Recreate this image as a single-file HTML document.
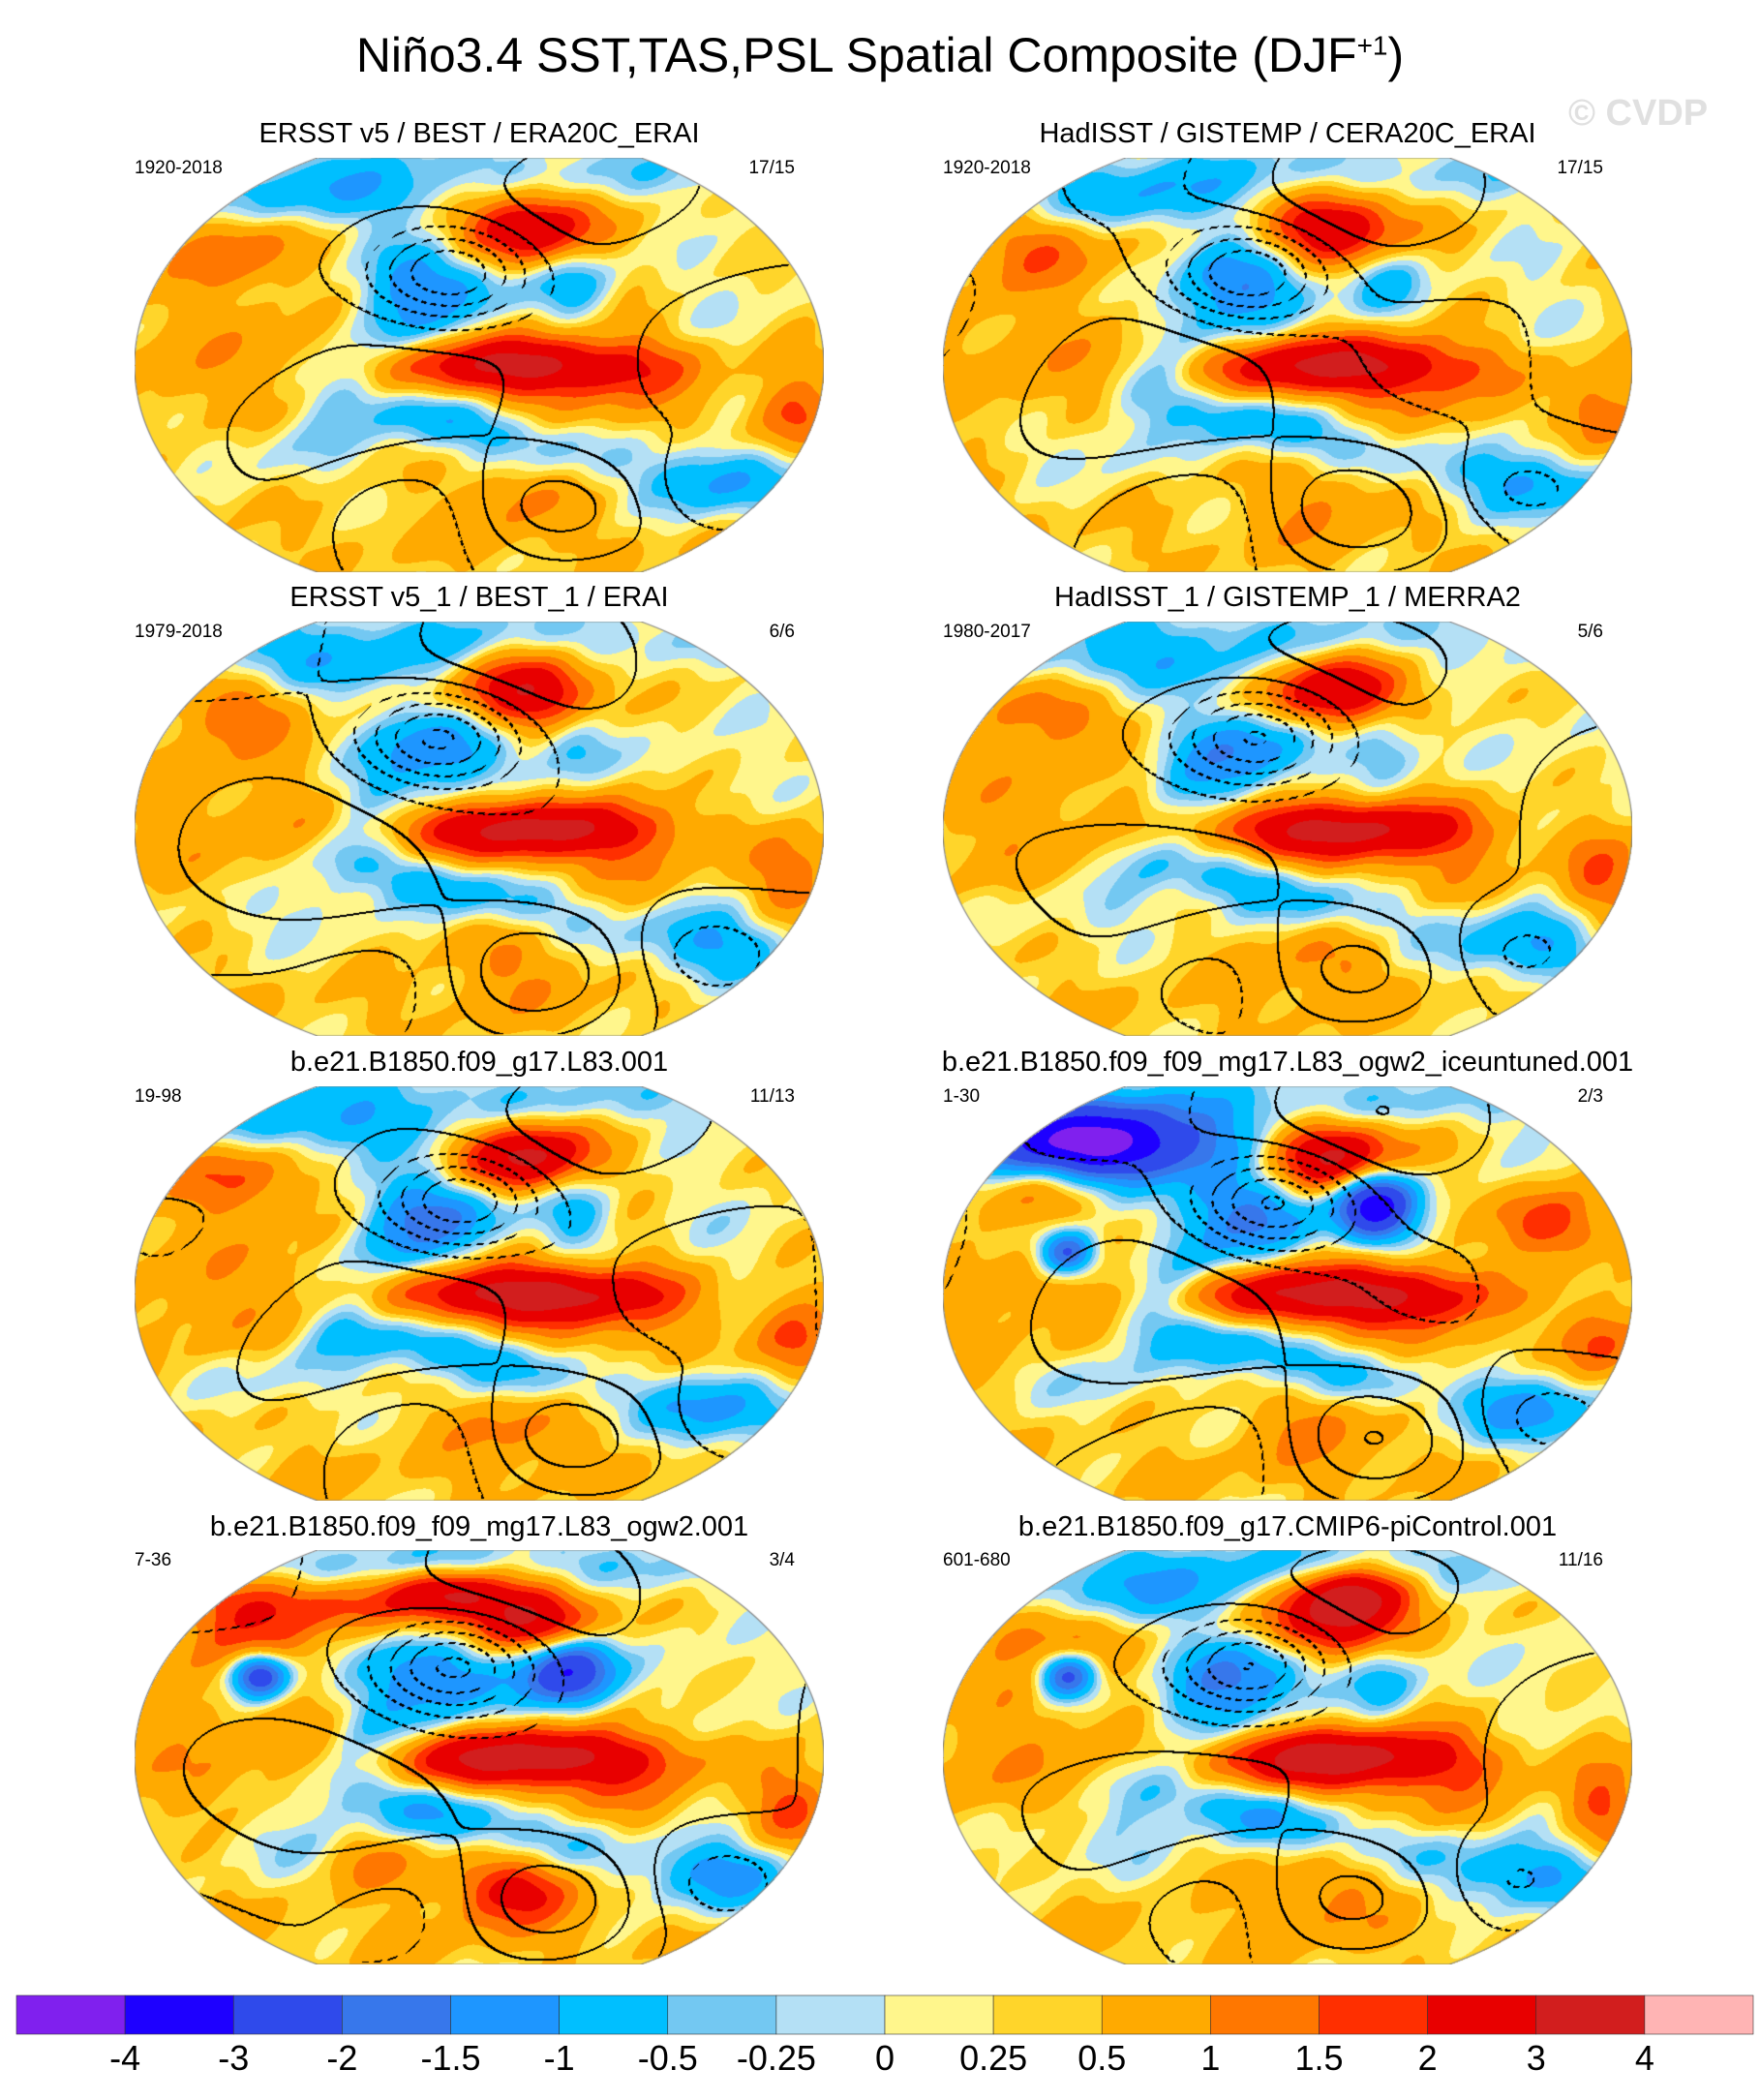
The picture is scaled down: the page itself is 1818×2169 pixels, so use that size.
<!DOCTYPE html>
<html><head><meta charset="utf-8">
<style>
html,body{margin:0;padding:0;background:#fff;}
body{width:1818px;height:2169px;position:relative;overflow:hidden;font-family:"Liberation Sans",sans-serif;color:#000;}
.t{position:absolute;white-space:nowrap;}
canvas{position:absolute;}
</style></head><body>
<div class="t" style="left:0;width:1818px;text-align:center;top:28px;font-size:50px;">Niño3.4 SST,TAS,PSL Spatial Composite (DJF<sup style="font-size:28px;">+1</sup>)</div>
<div class="t" style="left:1620px;top:96px;font-size:38px;font-weight:bold;color:#e0e0e0;">© CVDP</div>
<div id="panels"></div>
<svg id="cbar" width="1818" height="2169" style="position:absolute;left:0;top:0;pointer-events:none"></svg>
<script>
// colorbar data
const levels = ["-4","-3","-2","-1.5","-1","-0.5","-0.25","0","0.25","0.5","1","1.5","2","3","4"];
const levelVals = [-4,-3,-2,-1.5,-1,-0.5,-0.25,0,0.25,0.5,1,1.5,2,3,4];
const colors = ["#8020EE","#1E00FF","#2F4AEB","#3777EB","#1E96FF","#00BFFF","#73C8F2","#B4E0F5","#FFF68C","#FFD52A","#FFAA00","#FF7700","#FF2F00","#E80000","#D21E1E","#FFB4B4"];
// panel data
const titles = ["ERSST v5 / BEST / ERA20C_ERAI","HadISST / GISTEMP / CERA20C_ERAI","ERSST v5_1 / BEST_1 / ERAI","HadISST_1 / GISTEMP_1 / MERRA2","b.e21.B1850.f09_g17.L83.001","b.e21.B1850.f09_f09_mg17.L83_ogw2_iceuntuned.001","b.e21.B1850.f09_f09_mg17.L83_ogw2.001","b.e21.B1850.f09_g17.CMIP6-piControl.001"];
const yearLabels = ["1920-2018","1920-2018","1979-2018","1980-2017","19-98","1-30","7-36","601-680"];
const countLabels = ["17/15","17/15","6/6","5/6","11/13","2/3","3/4","11/16"];
// SST/TAS anomaly blobs (normalized map coords)
const blobU  = [0.57,0.58,0.57,0.45,0.33,0.52,0.28,0.15,0.10,0.85,0.85,0.55,0.18,0.64,0.50,0.50,0.95,0.75,0.40,0.42];
const blobV  = [0.50,0.52,0.17,0.30,0.47,0.66,0.10,0.22,0.50,0.45,0.78,0.82,0.70,0.30,0.03,0.93,0.62,0.58,0.62,0.40];
const blobSU = [0.13,0.22,0.07,0.08,0.04,0.14,0.13,0.06,0.12,0.08,0.08,0.07,0.10,0.04,0.40,0.40,0.04,0.06,0.08,0.05];
const blobSV = [0.045,0.10,0.06,0.07,0.15,0.05,0.05,0.06,0.20,0.20,0.06,0.07,0.06,0.08,0.05,0.05,0.07,0.10,0.05,0.08];
const blobAmp= [2.4,0.7,2.8,-1.4,-0.8,-1.1,-1.0,1.0,0.4,-0.35,-1.3,0.7,-0.5,-1.1,-0.7,0.2,1.2,0.3,-0.6,-0.7];
const blobRot= [0,0,0,0.5,0.3,0.4,0,0,0,0,0.2,0,0,0,0,0,0,0,0.3,0.4];
// per-panel extra blobs [panel index,u,v,su,sv,amp]
const extraPanel=[5,5,5,5,6,6,6,6,6,6,7,7];
const extraU=[0.20,0.62,0.88,0.18,0.25,0.45,0.62,0.18,0.35,0.55,0.18,0.60];
const extraV=[0.15,0.28,0.33,0.40,0.12,0.10,0.28,0.30,0.75,0.82,0.30,0.10];
const extraSU=[0.12,0.04,0.05,0.03,0.12,0.06,0.05,0.03,0.05,0.06,0.03,0.06];
const extraSV=[0.06,0.06,0.06,0.04,0.05,0.04,0.06,0.04,0.05,0.05,0.04,0.04];
const extraAmp=[-4.5,-3,2,-3,2.5,2.5,-2.5,-3.5,0.8,1.2,-3,2.0];
// PSL contour field
const pslU=[0.46,0.30,0.60,0.85,0.40,0.62];
const pslV=[0.28,0.60,0.85,0.80,0.85,0.08];
const pslS=[0.08,0.18,0.10,0.07,0.10,0.15];
const pslAmp=[-7,2.5,4,-2,-2,2.5];

const panelX=[139,974];const rowY=[163,642,1122,1601];
const titleY=[139,618,1098,1578];
const MW=712,MH=428;

function hex(c){return [parseInt(c.slice(1,3),16),parseInt(c.slice(3,5),16),parseInt(c.slice(5,7),16)];}
const rgb=colors.map(hex);
function idxFor(v){let i=0;while(i<levelVals.length&&v>=levelVals[i])i++;return i;}
function halfW(v){const t=Math.abs(v-0.5)*2;return Math.sqrt(Math.max(0,1-0.78*t*t));}

const panels=document.getElementById('panels');
for(let p=0;p<8;p++){
  const col=p%2,row=Math.floor(p/2);
  const x0=panelX[col],y0=rowY[row];
  const tt=document.createElement('div');tt.className='t';
  
  
  tt.style.cssText=`left:${x0-100}px;width:${MW+200}px;text-align:center;top:${titleY[row]-17}px;font-size:29px;`;
  tt.textContent=titles[p];panels.appendChild(tt);
  const yl=document.createElement('div');yl.className='t';
  
  
  yl.style.cssText=`left:${x0}px;top:${y0}px;font-size:19px;`;yl.textContent=yearLabels[p];panels.appendChild(yl);
  const cl=document.createElement('div');cl.className='t';
  
  
  cl.style.cssText=`left:${x0+MW-165}px;width:135px;text-align:right;top:${y0}px;font-size:19px;`;cl.textContent=countLabels[p];panels.appendChild(cl);
  const cv=document.createElement('canvas');cv.width=MW;cv.height=MH;
  
  
  cv.style.left=x0+'px';cv.style.top=y0+'px';panels.appendChild(cv);
  const ctx=cv.getContext('2d');const img=ctx.createImageData(MW,MH);const d=img.data;
  const ph=p*1.7;const ampScale=(p>=4)?1.1:1.0;
  const psl=new Float32Array(MW*MH);const inside=new Uint8Array(MW*MH);
  const bs=blobU.map((_,i)=>[Math.cos(blobRot[i]),Math.sin(blobRot[i])]);
  for(let y=0;y<MH;y++){const v=y/MH;const hw=halfW(v);
    for(let x=0;x<MW;x++){const u=x/MW;const k=y*MW+x;
      if(Math.abs(u-0.5)*2>hw)continue;inside[k]=1;
      let f=0.33;
      for(let i=0;i<blobU.length;i++){const dx=u-blobU[i],dy=v-blobV[i];const c=bs[i][0],s=bs[i][1];
        const a=(dx*c+dy*s)/blobSU[i],b=(-dx*s+dy*c)/blobSV[i];f+=ampScale*blobAmp[i]*Math.exp(-0.5*(a*a+b*b));}
      for(let i=0;i<extraPanel.length;i++){if(extraPanel[i]!==p)continue;const a=(u-extraU[i])/extraSU[i],b=(v-extraV[i])/extraSV[i];f+=extraAmp[i]*Math.exp(-0.5*(a*a+b*b));}
      f+=0.3*Math.sin(u*23+v*11+ph)*Math.sin(v*19-u*7+ph*2)+0.08*Math.sin(u*63+v*41+ph);
      const c=rgb[idxFor(f)];d[k*4]=c[0];d[k*4+1]=c[1];d[k*4+2]=c[2];d[k*4+3]=255;
      let q=0;for(let i=0;i<pslU.length;i++){const a=(u-pslU[i]+0.02*Math.sin(p)),b=(v-pslV[i]);q+=pslAmp[i]*Math.exp(-0.5*(a*a+b*b)/(pslS[i]*pslS[i]));}
      q+=0.6*Math.sin(u*9+ph)*Math.cos(v*7);psl[k]=q/1.5;
    }}
  for(let y=0;y<MH-2;y++)for(let x=0;x<MW-2;x++){const k=y*MW+x;if(!inside[k]||!inside[k+2]||!inside[k+2*MW])continue;
    const a=Math.floor(psl[k]),b=Math.floor(psl[k+2]),c=Math.floor(psl[k+2*MW]);
    if(a!==b||a!==c){if(psl[k]<0&&((x+y)%12)>=7)continue;d[k*4]=0;d[k*4+1]=0;d[k*4+2]=0;}}
  ctx.putImageData(img,0,0);
  ctx.strokeStyle='#888';ctx.lineWidth=1.2;ctx.beginPath();
  for(let y=0;y<=MH;y++){const hw=halfW(y/MH)*MW/2;const xx=MW/2+hw;y===0?ctx.moveTo(xx,y):ctx.lineTo(xx,y);}
  for(let y=MH;y>=0;y--){const hw=halfW(y/MH)*MW/2;ctx.lineTo(MW/2-hw,y);}
  ctx.closePath();ctx.stroke();
}
// colorbar
const svg=document.getElementById('cbar');const NS='http://www.w3.org/2000/svg';
const cbX0=17,cbX1=1811,cbY=2061,cbH=40;const bw=(cbX1-cbX0)/colors.length;
for(let i=0;i<colors.length;i++){const r=document.createElementNS(NS,'rect');
  
  
  r.setAttribute('x',cbX0+i*bw);r.setAttribute('y',cbY);r.setAttribute('width',bw);r.setAttribute('height',cbH);
  r.setAttribute('fill',colors[i]);r.setAttribute('stroke','#333');r.setAttribute('stroke-width','0.6');svg.appendChild(r);}
for(let i=0;i<levels.length;i++){const t=document.createElementNS(NS,'text');
  
  
  t.setAttribute('x',cbX0+(i+1)*bw);t.setAttribute('y',2138);t.setAttribute('text-anchor','middle');
  t.setAttribute('font-size','36');t.setAttribute('font-family','Liberation Sans, sans-serif');t.textContent=levels[i];svg.appendChild(t);}
</script>
</body></html>
